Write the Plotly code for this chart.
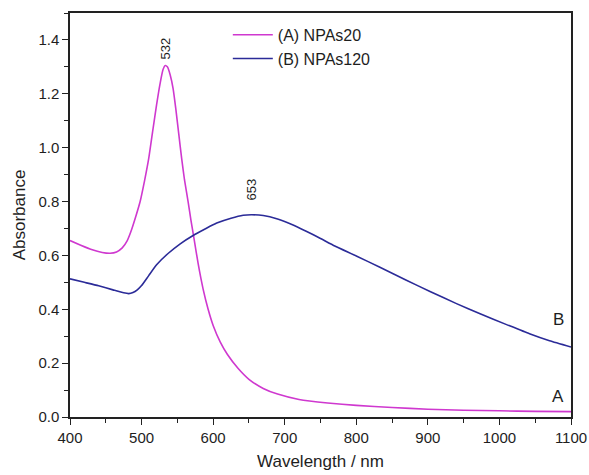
import plotly.graph_objects as go

# Curve A: NPAs20
wl_a = [400, 415, 430, 445, 456, 465, 473, 480, 486, 492, 498, 504, 510, 516, 521, 526, 530, 533, 536, 540,
        544, 548, 552, 556, 560, 565, 569, 573, 579, 586, 593, 600, 610, 620, 635, 650, 670, 690, 720, 760,
        800, 850, 900, 950, 1000, 1050, 1100]
abs_a = [0.655, 0.638, 0.622, 0.611, 0.608, 0.613, 0.628, 0.655, 0.695, 0.745, 0.80, 0.875, 0.96, 1.07, 1.16, 1.24, 1.29, 1.305, 1.30, 1.27,
         1.22, 1.14, 1.05, 0.96, 0.88, 0.80, 0.73, 0.667, 0.57, 0.475, 0.40, 0.340, 0.278, 0.232, 0.180, 0.140, 0.106, 0.085, 0.065, 0.052,
         0.043, 0.035, 0.029, 0.025, 0.023, 0.021, 0.020]

# Curve B: NPAs120
wl_b = [400, 420, 440, 460, 475, 482, 488, 494, 500, 510, 521, 537, 554, 572, 590, 605, 625, 642, 654, 670,
        690, 710, 730, 750, 770, 800, 833, 870, 903, 940, 973, 1010, 1042, 1070, 1100]
abs_b = [0.513, 0.500, 0.487, 0.472, 0.461, 0.458, 0.462, 0.472, 0.488, 0.525, 0.565, 0.607, 0.643, 0.674, 0.70, 0.72, 0.738, 0.749, 0.751, 0.748,
         0.735, 0.715, 0.690, 0.663, 0.635, 0.598, 0.556, 0.508, 0.466, 0.421, 0.383, 0.343, 0.309, 0.283, 0.26]

peak_labels = ["532", "653"]
peak_x = [534, 654]
peak_y = [1.305, 0.751]
peak_gap = [4, 12]

col_a = "#cf38cf"
col_b = "#2b2b98"
FONT = "Arial, Liberation Sans, Helvetica, sans-serif"
TXT = "#1e1e1e"

fig = go.Figure()
fig.add_trace(go.Scatter(x=wl_a, y=abs_a, mode="lines", name="(A) NPAs20",
                         line=dict(color=col_a, width=1.6, shape="spline", smoothing=0.5)))
fig.add_trace(go.Scatter(x=wl_b, y=abs_b, mode="lines", name="(B) NPAs120",
                         line=dict(color=col_b, width=1.6, shape="spline", smoothing=0.5)))

for lab, px, py, gap in zip(peak_labels, peak_x, peak_y, peak_gap):
    fig.add_annotation(x=px, y=py, text=lab, showarrow=False, textangle=-90,
                       yshift=gap, yanchor="bottom", xanchor="center",
                       font=dict(size=13, color=TXT, family=FONT))

fig.add_annotation(x=1082, y=abs_b[-1], text="B", showarrow=False, yshift=27,
                   font=dict(size=17, color=TXT, family=FONT))
fig.add_annotation(x=1082, y=abs_a[-1], text="A", showarrow=False, yshift=15,
                   font=dict(size=17, color=TXT, family=FONT))

axis_common = dict(showline=True, linecolor="#222", linewidth=1.5, mirror=True,
                   ticks="outside", ticklen=6, tickwidth=1.2, tickcolor="#222",
                   showgrid=False, zeroline=False, automargin=False,
                   tickfont=dict(size=15, color=TXT, family=FONT))

fig.update_layout(
    width=589, height=475,
    margin=dict(l=70, r=18, t=13, b=58),
    paper_bgcolor="white", plot_bgcolor="white",
    font=dict(family=FONT, color=TXT),
    xaxis=dict(range=[400, 1100], dtick=100, tick0=400,
               minor=dict(ticks="outside", ticklen=4, dtick=50, tickcolor="#222", tickwidth=1.2),
               title=dict(text="Wavelength / nm", font=dict(size=17, color=TXT), standoff=10),
               **axis_common),
    yaxis=dict(range=[0, 1.5], dtick=0.2, tick0=0, tickformat=".1f",
               minor=dict(ticks="outside", ticklen=4, dtick=0.1, tickcolor="#222", tickwidth=1.2),
               title=dict(text="Absorbance", font=dict(size=17, color=TXT), standoff=8),
               **axis_common),
    legend=dict(x=0.315, y=0.988, xanchor="left", yanchor="top", bgcolor="rgba(0,0,0,0)",
                font=dict(size=16, family=FONT, color=TXT),
                itemwidth=40, tracegroupgap=0),
    showlegend=True,
)

fig.write_html("out.html")
